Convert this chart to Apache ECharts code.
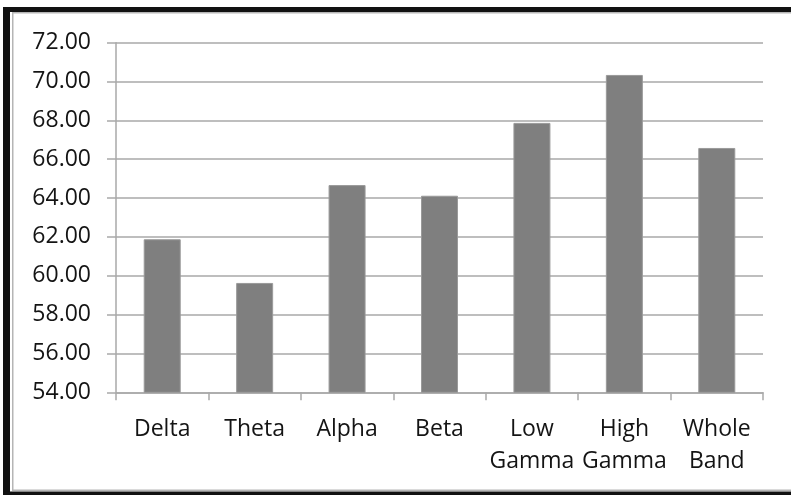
<!DOCTYPE html>
<html>
<head>
<meta charset="utf-8">
<script src="https://cdn.jsdelivr.net/npm/echarts@6/dist/echarts.min.js"></script>
<style>
  html, body { margin: 0; padding: 0; background: #ffffff; }
  #chart { width: 791px; height: 495px; }
</style>
</head>
<body>
<div id="chart"></div>
<script>
// Frequency bands on the x axis
const categories = ['Delta', 'Theta', 'Alpha', 'Beta', 'Low\nGamma', 'High\nGamma', 'Whole\nBand'];
// Bar heights per band
const values = [61.88, 59.63, 64.67, 64.12, 67.87, 70.34, 66.58];
// Value axis range and step
const yMin = 54;
const yMax = 72;
const yStep = 2;

const FONT = '"Open Sans", "DejaVu Sans", sans-serif';
const GRID_GRAY = '#a9a9a9';
const TEXT = '#141414';

const chart = echarts.init(document.getElementById('chart'), null, { renderer: 'canvas' });

chart.setOption({
  backgroundColor: '#ffffff',
  animation: false,
  grid: { left: 116, right: 28, top: 42.7, bottom: 102.7, containLabel: false },
  xAxis: {
    type: 'category',
    data: categories,
    boundaryGap: true,
    axisLine: { show: true, lineStyle: { color: GRID_GRAY, width: 1.5 } },
    axisTick: { show: true, length: 8, lineStyle: { color: GRID_GRAY, width: 1.5 } },
    axisLabel: {
      interval: 0,
      margin: 21,
      color: TEXT,
      fontFamily: FONT,
      fontSize: 23,
      lineHeight: 32
    },
    splitLine: { show: false }
  },
  yAxis: {
    type: 'value',
    min: yMin,
    max: yMax,
    interval: yStep,
    axisLine: { show: true, lineStyle: { color: GRID_GRAY, width: 1.5 } },
    axisTick: { show: true, length: 9, lineStyle: { color: GRID_GRAY, width: 1.5 } },
    axisLabel: {
      margin: 25,
      color: TEXT,
      fontFamily: FONT,
      fontSize: 23,
      formatter: v => v.toFixed(2)
    },
    splitLine: { show: true, lineStyle: { color: GRID_GRAY, width: 1.5 } }
  },
  series: [{
    type: 'bar',
    data: values,
    barWidth: 37,
    itemStyle: { color: '#7f7f7f', borderColor: '#9a9a9a', borderWidth: 1 }
  }],
  graphic: [
    // outer frame: dark bars on left, top and bottom, with a thin grey inner rule
    { type: 'rect', shape: { x: 3, y: 7, width: 7, height: 488 }, style: { fill: '#111111' }, silent: true },
    { type: 'rect', shape: { x: 3, y: 7, width: 788, height: 5 }, style: { fill: '#111111' }, silent: true },
    { type: 'rect', shape: { x: 3, y: 491.5, width: 788, height: 3.5 }, style: { fill: '#111111' }, silent: true },
    { type: 'rect', shape: { x: 12, y: 12, width: 1.5, height: 479 }, style: { fill: '#b5b5b5' }, silent: true },
    { type: 'rect', shape: { x: 12, y: 12, width: 779, height: 1.5 }, style: { fill: '#b5b5b5' }, silent: true },
    { type: 'rect', shape: { x: 12, y: 489.5, width: 779, height: 1.5 }, style: { fill: '#b5b5b5' }, silent: true }
  ]
});
</script>
</body>
</html>
